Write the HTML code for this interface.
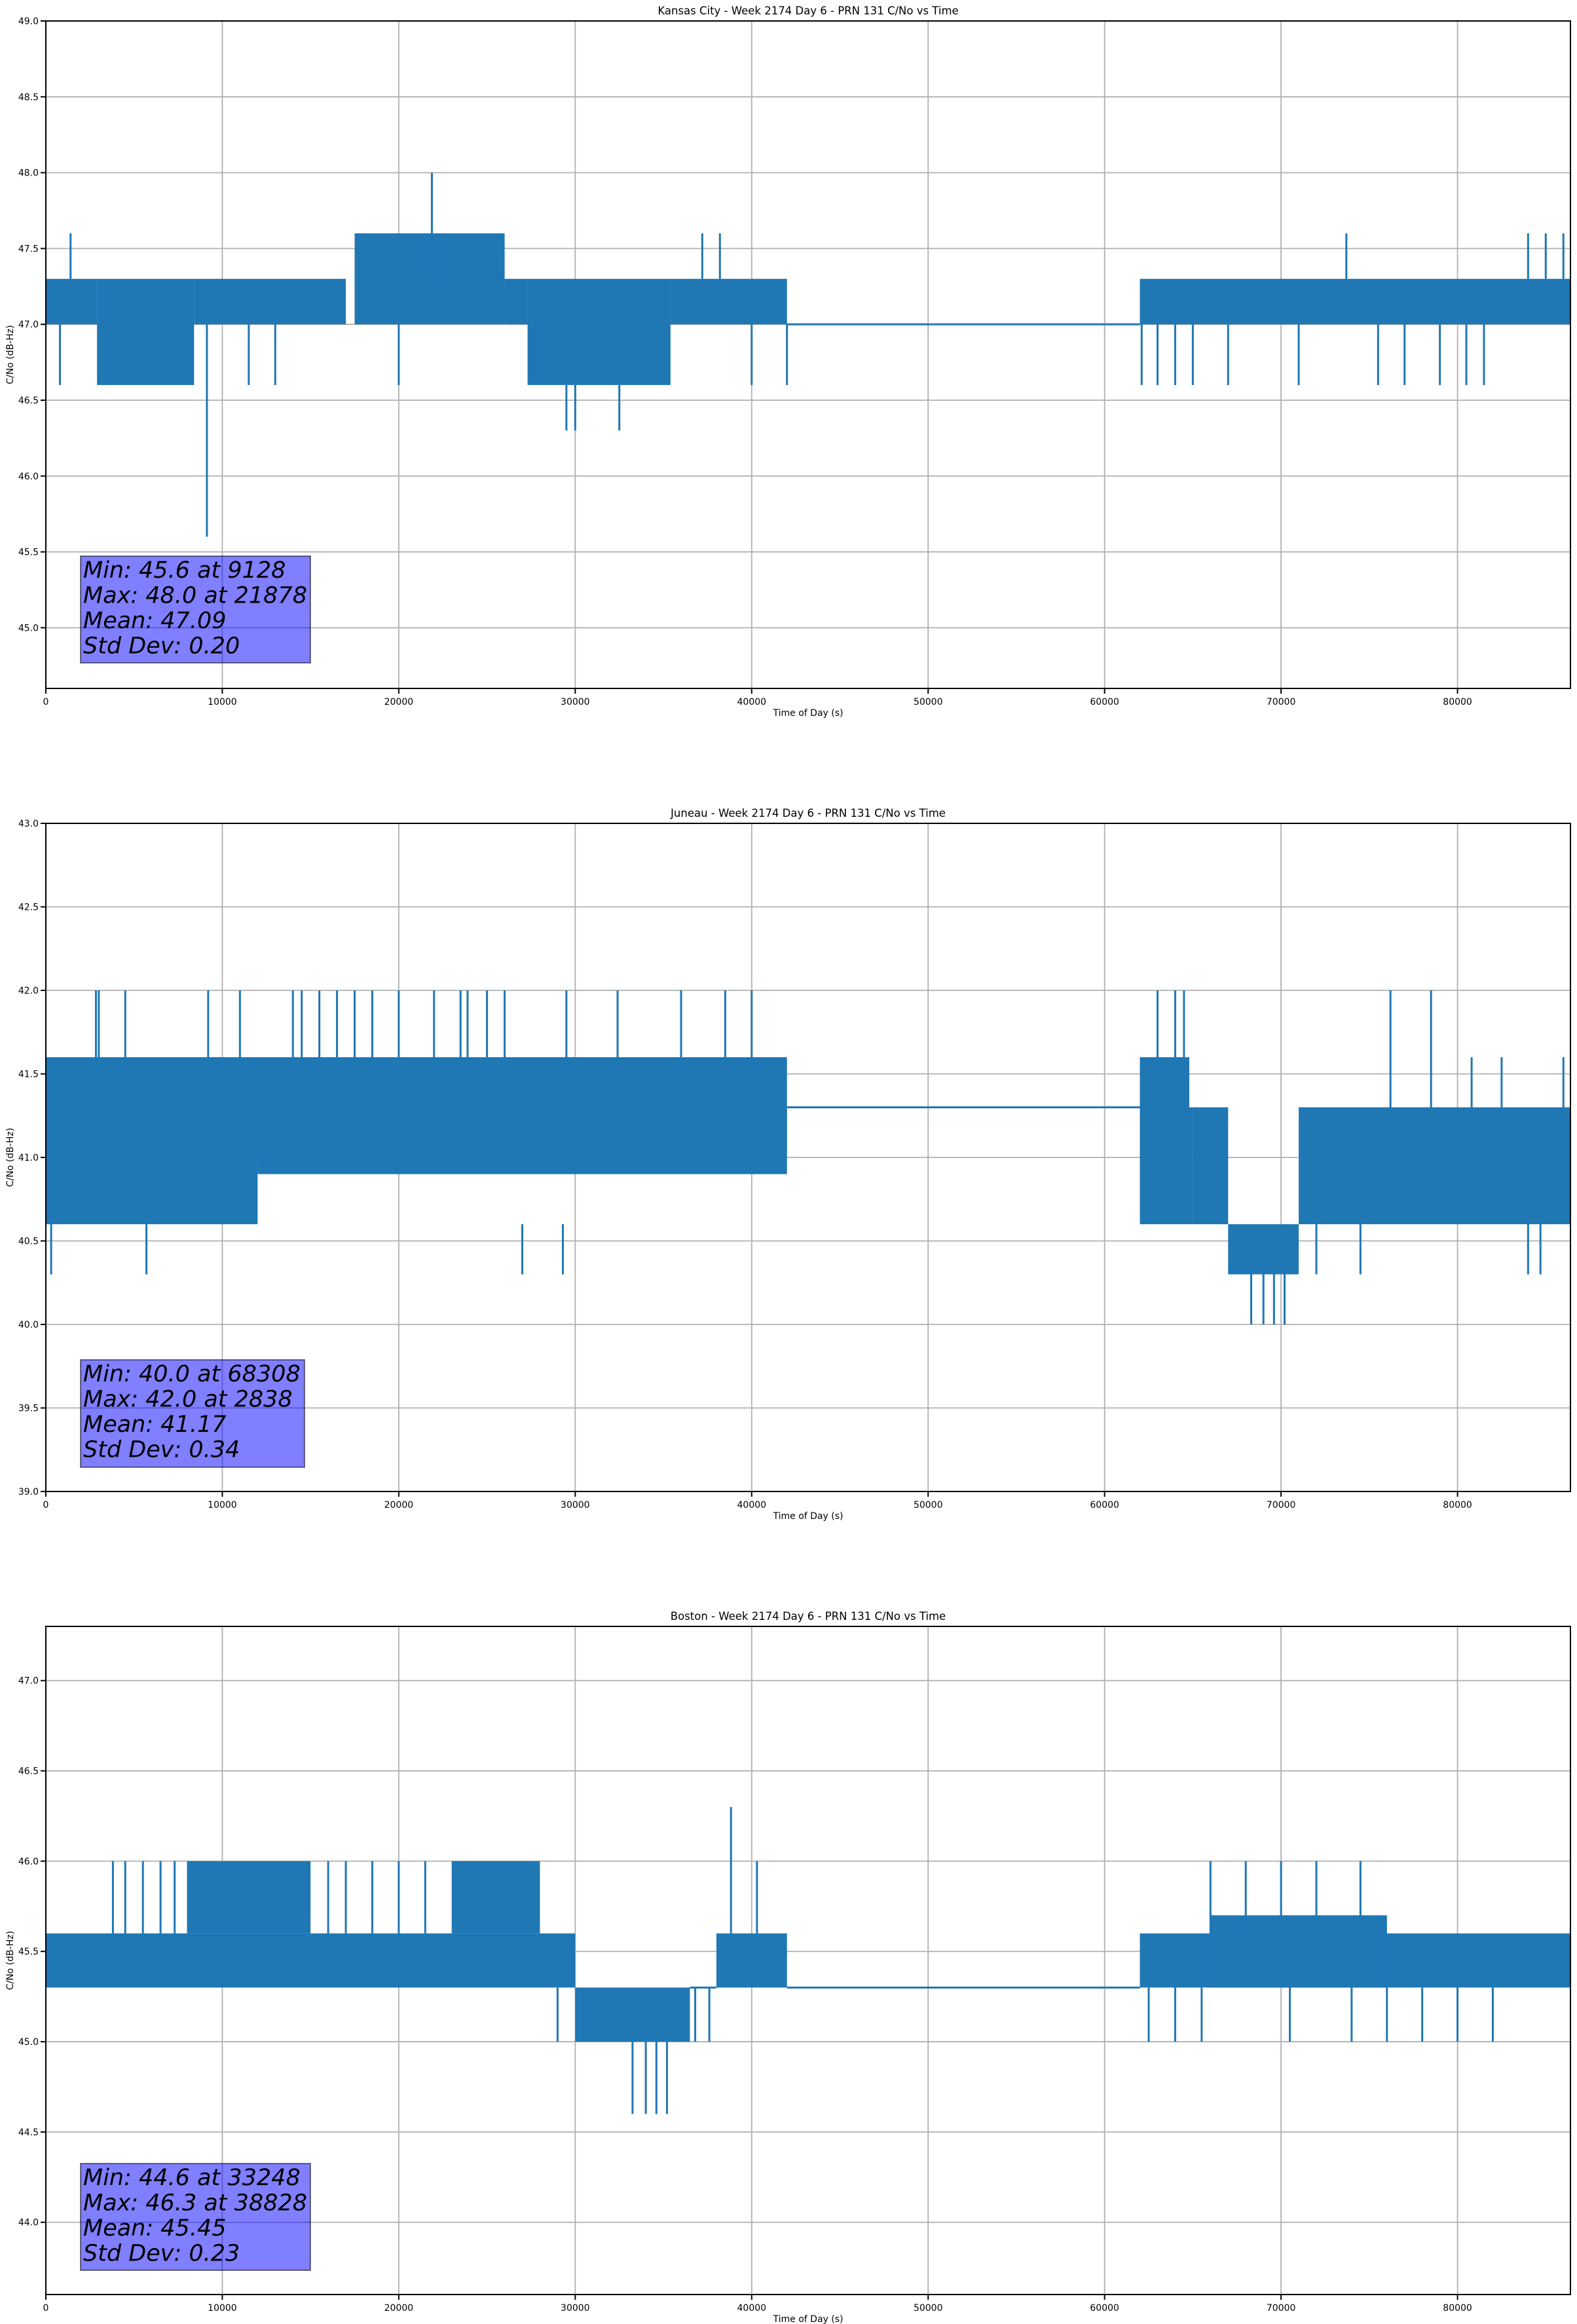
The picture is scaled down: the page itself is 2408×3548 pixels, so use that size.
<!DOCTYPE html>
<html><head><meta charset="utf-8"><style>
html,body{margin:0;padding:0;background:#fff}
svg{display:block}
text{font-family:"DejaVu Sans","Liberation Sans",sans-serif;fill:#000}
</style></head><body>
<svg id="fig" width="2408" height="3548" viewBox="0 0 2408 3548" xmlns="http://www.w3.org/2000/svg"></svg>
<script>
// ---------- data ----------
const xTicks = [0,10000,20000,30000,40000,50000,60000,70000,80000];
const xMax = 86400;

const kcTitle = "Kansas City - Week 2174 Day 6 - PRN 131 C/No vs Time";
const kcYTicks = [45.0,45.5,46.0,46.5,47.0,47.5,48.0,48.5,49.0];
const kcYRange = [44.6,49.0];
const kcBands = [[0,2900,47.0,47.3],[2900,8400,46.6,47.3],[8400,17000,47.0,47.3],[17500,26000,47.0,47.6],[26000,27300,47.0,47.3],[27300,35400,46.6,47.3],[35400,42000,47.0,47.3],[62000,86400,47.0,47.3]];
const kcFlat = [[42000,62000,47.0]];
const kcSpikes = [[1400,47.3,47.6],[9128,47.0,45.6],[21878,47.3,48.0],[29500,46.6,46.3],[30000,46.6,46.3],[32500,46.6,46.3],[37200,47.3,47.6],[38200,47.3,47.6],[73700,47.3,47.6],[84000,47.3,47.6],[85000,47.3,47.6],[86000,47.3,47.6],[62100,47.0,46.6],[63000,47.0,46.6],[64000,47.0,46.6],[65000,47.0,46.6],[67000,47.0,46.6],[71000,47.0,46.6],[75500,47.0,46.6],[77000,47.0,46.6],[79000,47.0,46.6],[80500,47.0,46.6],[81500,47.0,46.6],[800,47.0,46.6],[11500,47.0,46.6],[13000,47.0,46.6],[20000,47.0,46.6],[40000,47.0,46.6],[42000,47.0,46.6]];
const kcStats = ["Min: 45.6 at 9128","Max: 48.0 at 21878","Mean: 47.09","Std Dev: 0.20"];

const juTitle = "Juneau - Week 2174 Day 6 - PRN 131 C/No vs Time";
const juYTicks = [39.0,39.5,40.0,40.5,41.0,41.5,42.0,42.5,43.0];
const juYRange = [39.0,43.0];
const juBands = [[0,42000,41.0,41.6],[0,12000,40.6,41.3],[12000,42000,40.9,41.3],[62000,64800,41.0,41.6],[62000,65000,40.6,41.3],[65000,67000,40.6,41.3],[67000,71000,40.3,40.6],[71000,86400,40.6,41.3]];
const juFlat = [[42000,62000,41.3]];
const juSpikes = [[300,40.6,40.3],[5700,40.6,40.3],[27000,40.6,40.3],[29300,40.6,40.3],[2838,41.6,42.0],[3000,41.6,42.0],[4500,41.6,42.0],[9200,41.6,42.0],[11000,41.6,42.0],[14000,41.6,42.0],[14500,41.6,42.0],[15500,41.6,42.0],[16500,41.6,42.0],[17500,41.6,42.0],[18500,41.6,42.0],[20000,41.6,42.0],[22000,41.6,42.0],[23500,41.6,42.0],[23900,41.6,42.0],[25000,41.6,42.0],[26000,41.6,42.0],[29500,41.6,42.0],[32400,41.6,42.0],[36000,41.6,42.0],[38500,41.6,42.0],[40000,41.6,42.0],[63000,41.6,42.0],[64000,41.6,42.0],[64500,41.6,42.0],[68308,40.3,40.0],[69000,40.3,40.0],[69600,40.3,40.0],[70200,40.3,40.0],[76200,41.3,42.0],[78500,41.3,42.0],[80800,41.3,41.6],[82500,41.3,41.6],[86000,41.3,41.6],[84000,40.6,40.3],[84700,40.6,40.3],[72000,40.6,40.3],[74500,40.6,40.3]];
const juStats = ["Min: 40.0 at 68308","Max: 42.0 at 2838","Mean: 41.17","Std Dev: 0.34"];

const boTitle = "Boston - Week 2174 Day 6 - PRN 131 C/No vs Time";
const boYTicks = [44.0,44.5,45.0,45.5,46.0,46.5,47.0];
const boYRange = [43.6,47.3];
const boBands = [[0,30000,45.3,45.6],[8000,15000,45.6,46.0],[23000,28000,45.6,46.0],[30000,36500,45.0,45.3],[38000,42000,45.3,45.6],[62000,86400,45.3,45.6],[66000,76000,45.3,45.7]];
const boFlat = [[36500,38000,45.3],[42000,62000,45.3]];
const boSpikes = [[3800,45.6,46.0],[4500,45.6,46.0],[5500,45.6,46.0],[6500,45.6,46.0],[7300,45.6,46.0],[16000,45.6,46.0],[17000,45.6,46.0],[18500,45.6,46.0],[20000,45.6,46.0],[21500,45.6,46.0],[33248,45.0,44.6],[34000,45.0,44.6],[34600,45.0,44.6],[35200,45.0,44.6],[38828,45.6,46.3],[40300,45.6,46.0],[66000,45.6,46.0],[68000,45.6,46.0],[70000,45.6,46.0],[72000,45.6,46.0],[74500,45.6,46.0],[29000,45.3,45.0],[62500,45.3,45.0],[64000,45.3,45.0],[65500,45.3,45.0],[70500,45.3,45.0],[74000,45.3,45.0],[76000,45.3,45.0],[78000,45.3,45.0],[80000,45.3,45.0],[82000,45.3,45.0],[36800,45.3,45.0],[37600,45.3,45.0]];
const boStats = ["Min: 44.6 at 33248","Max: 46.3 at 38828","Mean: 45.45","Std Dev: 0.23"];

// ---------- drawing ----------
const NS="http://www.w3.org/2000/svg";
const svg=document.getElementById('fig');
const L=70,R=2398;
function mk(tag,attrs,parent){const e=document.createElementNS(NS,tag);for(const k in attrs)e.setAttribute(k,attrs[k]);(parent||svg).appendChild(e);return e;}

function drawPanel(key,top,bottom,title,yTicks,yRange,bands,flat,spikes,stats,box){
  const g=mk('g',{});
  
  
  const xs=t=>L+(t/xMax)*(R-L);
  const ys=v=>bottom-(v-yRange[0])/(yRange[1]-yRange[0])*(bottom-top);
  xTicks.forEach(t=>{
    const l=mk('line',{x1:xs(t),x2:xs(t),y1:top,y2:bottom,stroke:'#b0b0b0','stroke-width':1.8},g);
    
    
  });
  yTicks.forEach(v=>{
    const l=mk('line',{x1:L,x2:R,y1:ys(v),y2:ys(v),stroke:'#b0b0b0','stroke-width':1.8},g);
    
    
  });
  bands.forEach(b=>{
    const r=mk('rect',{x:xs(b[0]),y:ys(b[3]),width:xs(b[1])-xs(b[0]),height:ys(b[2])-ys(b[3]),fill:'#1f77b4'},g);
    
    
  });
  flat.forEach(f=>{
    const l=mk('line',{x1:xs(f[0]),x2:xs(f[1]),y1:ys(f[2]),y2:ys(f[2]),stroke:'#1f77b4','stroke-width':3},g);
    
    
  });
  spikes.forEach(s=>{
    const l=mk('line',{x1:xs(s[0]),x2:xs(s[0]),y1:ys(s[1]),y2:ys(s[2]),stroke:'#1f77b4','stroke-width':3},g);
    
    
  });
  const fr=mk('rect',{x:L,y:top,width:R-L,height:bottom-top,fill:'none',stroke:'#000','stroke-width':2},g);
  
  
  xTicks.forEach(t=>{
    mk('line',{x1:xs(t),x2:xs(t),y1:bottom,y2:bottom+8,stroke:'#000','stroke-width':2},g);
    const tx=mk('text',{x:xs(t),y:bottom+25,'text-anchor':'middle','font-size':14},g);
    tx.textContent=t;
    
    
  });
  yTicks.forEach(v=>{
    mk('line',{x1:L-8,x2:L,y1:ys(v),y2:ys(v),stroke:'#000','stroke-width':2},g);
    const tx=mk('text',{x:L-11,y:ys(v)+5,'text-anchor':'end','font-size':14},g);
    tx.textContent=v.toFixed(1);
    
    
  });
  const tt=mk('text',{x:(L+R)/2,y:top-10,'text-anchor':'middle','font-size':16.5},g);
  tt.textContent=title;
  
  
  const xl=mk('text',{x:(L+R)/2,y:bottom+42,'text-anchor':'middle','font-size':14},g);
  xl.textContent='Time of Day (s)';
  
  
  const cy=(top+bottom)/2;
  const yl=mk('text',{x:20,y:cy,'text-anchor':'middle','font-size':14,transform:'rotate(-90 20 '+cy+')'},g);
  yl.textContent='C/No (dB-Hz)';
  
  
  const bx=mk('rect',{x:box[0],y:box[1],width:box[2],height:box[3],fill:'rgba(0,0,255,0.5)',stroke:'rgba(0,0,0,0.5)','stroke-width':2},g);
  
  
  stats.forEach((s,i)=>{
    const tx=mk('text',{x:box[0]+4,y:box[1]+33+i*38.5,'font-size':35,'font-style':'italic'},g);
    tx.textContent=s;
    
    
  });
}
drawPanel('kansas-city',32,1051,kcTitle,kcYTicks,kcYRange,kcBands,kcFlat,kcSpikes,kcStats,[123,849,351,163]);
drawPanel('juneau',1257,2277,juTitle,juYTicks,juYRange,juBands,juFlat,juSpikes,juStats,[123,2076,342,164]);
drawPanel('boston',2483,3503,boTitle,boYTicks,boYRange,boBands,boFlat,boSpikes,boStats,[123,3303,351,163]);
</script>
</body></html>
